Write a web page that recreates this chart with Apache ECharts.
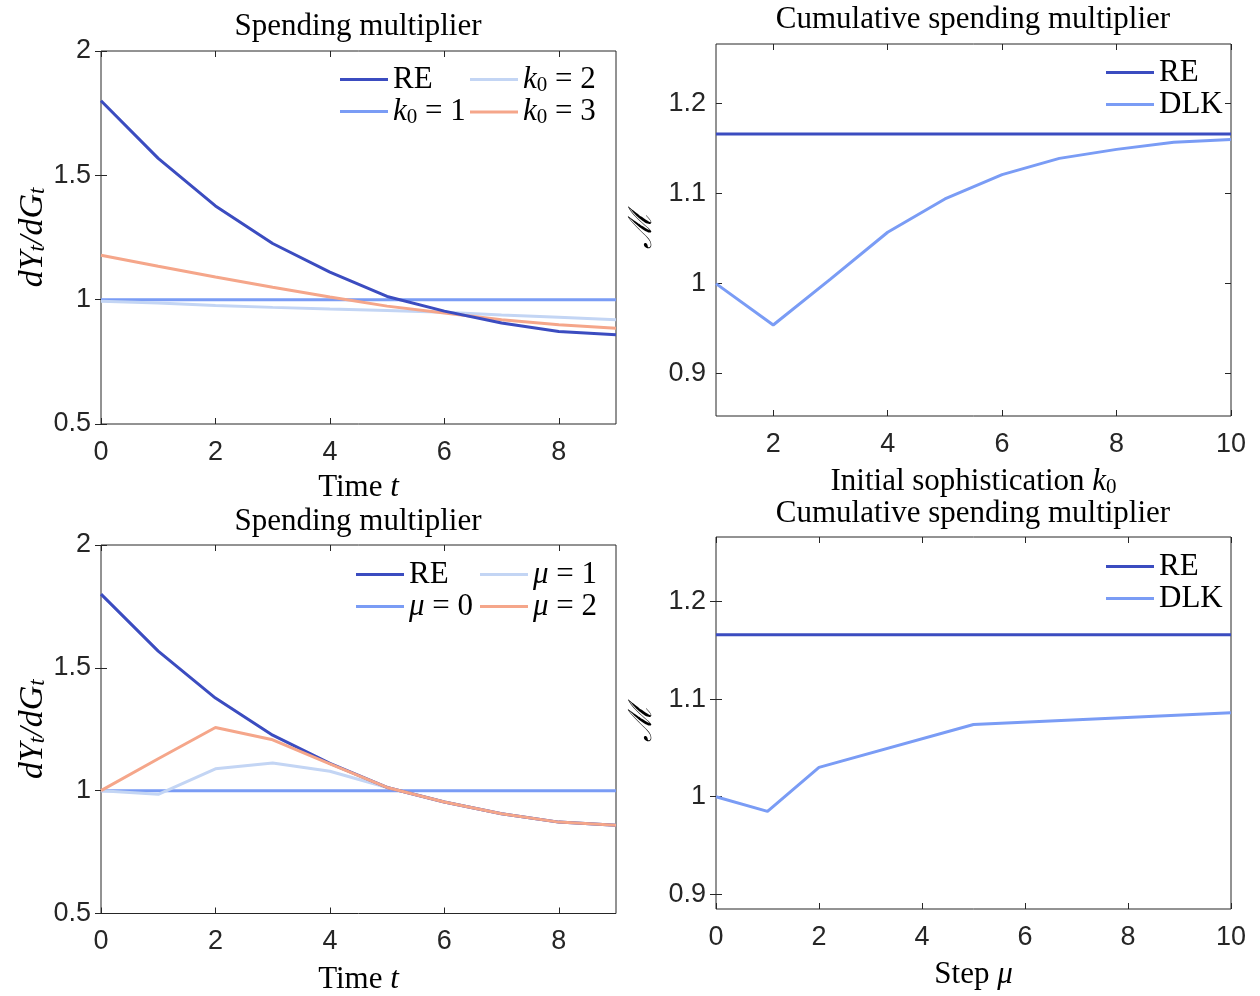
<!DOCTYPE html>
<html><head><meta charset="utf-8">
<script src="https://cdn.jsdelivr.net/npm/echarts@6/dist/echarts.min.js"></script>
<style>html,body{margin:0;padding:0;background:#fff}#c{width:1260px;height:996px}</style>
</head><body><div id="c"></div>
<script>
// ---------- data ----------
const timeSteps = [0, 1, 2, 3, 4, 5, 6, 7, 8, 9];
const reIrf  = [1.800, 1.568, 1.377, 1.226, 1.111, 1.013, 0.954, 0.906, 0.872, 0.859];
const k1Irf  = [1, 1, 1, 1, 1, 1, 1, 1, 1, 1];
const k2Irf  = [0.994, 0.987, 0.977, 0.969, 0.962, 0.956, 0.949, 0.938, 0.929, 0.919];
const k3Irf  = [1.179, 1.134, 1.091, 1.050, 1.011, 0.974, 0.946, 0.919, 0.899, 0.885];
const mu0Irf = [1, 1, 1, 1, 1, 1, 1, 1, 1, 1];
const mu1Irf = [1.000, 0.985, 1.089, 1.113, 1.079, 1.013, 0.954, 0.906, 0.872, 0.859];
const mu2Irf = [1.000, 1.130, 1.257, 1.207, 1.109, 1.013, 0.954, 0.906, 0.872, 0.859];

const k0Values  = [1, 2, 3, 4, 5, 6, 7, 8, 9, 10];
const reCumK    = [1.166, 1.166, 1.166, 1.166, 1.166, 1.166, 1.166, 1.166, 1.166, 1.166];
const dlkCumK   = [1.000, 0.954, 1.005, 1.057, 1.094, 1.121, 1.139, 1.149, 1.157, 1.160];

const muValues  = [0, 1, 2, 5, 10];
const reCumMu   = [1.166, 1.166, 1.166, 1.166, 1.166];
const dlkCumMu  = [1.000, 0.985, 1.030, 1.074, 1.086];

const leftXTicks = [0, 2, 4, 6, 8];
const leftYTicks = [0.5, 1, 1.5, 2];
const rightTopXTicks = [2, 4, 6, 8, 10];
const rightBotXTicks = [0, 2, 4, 6, 8, 10];
const rightYTicks = [0.9, 1, 1.1, 1.2];

// ---------- styling ----------
const C_RE = '#3b4cc0', C_1 = '#7a9cf5', C_2 = '#c3d5f4', C_3 = '#f5a68a';
const AX = '#262626';
const SERIF = '"Liberation Serif", "Times New Roman", serif';
const SANS = '"Liberation Sans", Arial, sans-serif';
const rich = {
  r: {fontFamily: SERIF, fontSize: 31, lineHeight: 32, color: '#000'},
  i: {fontFamily: SERIF, fontSize: 31, lineHeight: 32, fontStyle: 'italic', color: '#000'},
  s: {fontFamily: SERIF, fontSize: 21, lineHeight: 12, verticalAlign: 'bottom', color: '#000'},
  yi: {fontFamily: SERIF, fontSize: 34, lineHeight: 34, fontStyle: 'italic', color: '#000'},
  ys: {fontFamily: SERIF, fontSize: 23, lineHeight: 12, fontStyle: 'italic', verticalAlign: 'bottom', color: '#000'},
  m: {fontFamily: '"DejaVu Serif", serif', fontSize: 32, lineHeight: 34, fontStyle: 'italic', color: '#000'}
};
const legendLabels = {
  'RE': '{r|RE}', 'DLK': '{r|DLK}',
  'k1': '{i|k}{s|0}{r| = 1}', 'k2': '{i|k}{s|0}{r| = 2}', 'k3': '{i|k}{s|0}{r| = 3}',
  'm0': '{i|μ}{r| = 0}', 'm1': '{i|μ}{r| = 1}', 'm2': '{i|μ}{r| = 2}'
};

const grids = [
  {left: 101, top: 51, width: 515, height: 373},
  {left: 716, top: 44, width: 515, height: 372},
  {left: 101, top: 545, width: 515, height: 373},
  {left: 716, top: 537, width: 515, height: 372}
];

function labFmt(v) { return String(Math.round(v * 100) / 100); }

function xAxes(gi, min, max, ticks, name, gap) {
  return [
    {type: 'value', gridIndex: gi, min: min, max: max, position: 'bottom',
     name: name, nameLocation: 'middle', nameGap: gap, nameTextStyle: {rich: rich},
     axisLine: {show: false}, splitLine: {show: false},
     axisTick: {inside: true, length: 6, lineStyle: {color: AX}, customValues: ticks},
     axisLabel: {customValues: ticks, formatter: labFmt, fontFamily: SANS, fontSize: 27, color: AX, margin: 15}},
    {type: 'value', gridIndex: gi, min: min, max: max, position: 'top',
     axisLine: {show: false}, splitLine: {show: false},
     axisTick: {inside: true, length: 6, lineStyle: {color: AX}, customValues: ticks},
     axisLabel: {show: false}}
  ];
}
function yAxes(gi, min, max, ticks, name, gap) {
  return [
    {type: 'value', gridIndex: gi, min: min, max: max, position: 'left',
     name: name, nameLocation: 'middle', nameGap: gap, nameTextStyle: {rich: rich},
     axisLine: {show: false}, splitLine: {show: false},
     axisTick: {inside: true, length: 6, lineStyle: {color: AX}, customValues: ticks},
     axisLabel: {customValues: ticks, formatter: labFmt, fontFamily: SANS, fontSize: 27, color: AX, margin: 10}},
    {type: 'value', gridIndex: gi, min: min, max: max, position: 'right',
     axisLine: {show: false}, splitLine: {show: false},
     axisTick: {inside: true, length: 6, lineStyle: {color: AX}, customValues: ticks},
     axisLabel: {show: false}}
  ];
}

const xAxis = [].concat(
  xAxes(0, 0, 9, leftXTicks, '{r|Time }{i|t}', 48),
  xAxes(1, 1, 10, rightTopXTicks, '{r|Initial sophistication }{i|k}{s|0}', 50),
  xAxes(2, 0, 9, leftXTicks, '{r|Time }{i|t}', 50),
  xAxes(3, 0, 10, rightBotXTicks, '{r|Step }{i|μ}', 50)
);
const yAxis = [].concat(
  yAxes(0, 0.5, 2, leftYTicks, '{yi|dY}{ys|t}{yi|/dG}{ys|t}', 46),
  yAxes(1, 0.853, 1.266, rightYTicks, '{m|ℳ}', 56),
  yAxes(2, 0.5, 2, leftYTicks, '{yi|dY}{ys|t}{yi|/dG}{ys|t}', 46),
  yAxes(3, 0.885, 1.266, rightYTicks, '{m|ℳ}', 56)
);

function pairs(xs, ys) { return xs.map((x, i) => [x, ys[i]]); }
function line(name, panel, xs, ys, color) {
  return {type: 'line', name: name, xAxisIndex: panel * 2, yAxisIndex: panel * 2,
          data: pairs(xs, ys), symbol: 'none', showSymbol: false, silent: true, animation: false,
          lineStyle: {color: color, width: 3}, itemStyle: {color: color}, z: 3};
}

const series = [
  line('k1', 0, timeSteps, k1Irf, C_1),
  line('k2', 0, timeSteps, k2Irf, C_2),
  line('k3', 0, timeSteps, k3Irf, C_3),
  line('RE', 0, timeSteps, reIrf, C_RE),
  line('RE', 1, k0Values, reCumK, C_RE),
  line('DLK', 1, k0Values, dlkCumK, C_1),
  line('m0', 2, timeSteps, mu0Irf, C_1),
  line('m1', 2, timeSteps, mu1Irf, C_2),
  line('RE', 2, timeSteps, reIrf, C_RE),
  line('m2', 2, timeSteps, mu2Irf, C_3),
  line('RE', 3, muValues, reCumMu, C_RE),
  line('DLK', 3, muValues, dlkCumMu, C_1)
];

function legend(names, left, top) {
  return {data: names, left: left, top: top, orient: 'vertical', padding: 0,
          icon: 'rect', itemWidth: 48, itemHeight: 3, itemGap: 1, selectedMode: false,
          textStyle: {rich: rich},
          formatter: n => legendLabels[n]};
}

function title(text, cx, top) {
  return {text: text, left: cx, top: top, textAlign: 'center', padding: 0,
          textStyle: {fontFamily: SERIF, fontSize: 31, fontWeight: 'normal', color: '#000'}};
}

const chart = echarts.init(document.getElementById('c'), null, {renderer: 'canvas'});
chart.setOption({
  animation: false,
  backgroundColor: '#fff',
  title: [
    title('Spending multiplier', 358, 11),
    title('Cumulative spending multiplier', 973, 4),
    title('Spending multiplier', 358, 506),
    title('Cumulative spending multiplier', 973, 498)
  ],
  grid: grids.map(g => Object.assign({show: true, borderColor: AX, borderWidth: 1, backgroundColor: '#fff', containLabel: false}, g)),
  xAxis: xAxis,
  yAxis: yAxis,
  legend: [
    legend(['RE', 'k1'], 340, 64),
    legend(['k2', 'k3'], 470, 64),
    legend(['RE', 'DLK'], 1106, 57),
    legend(['RE', 'm0'], 356, 559),
    legend(['m1', 'm2'], 480, 559),
    legend(['RE', 'DLK'], 1106, 551)
  ],
  series: series
});
</script></body></html>
